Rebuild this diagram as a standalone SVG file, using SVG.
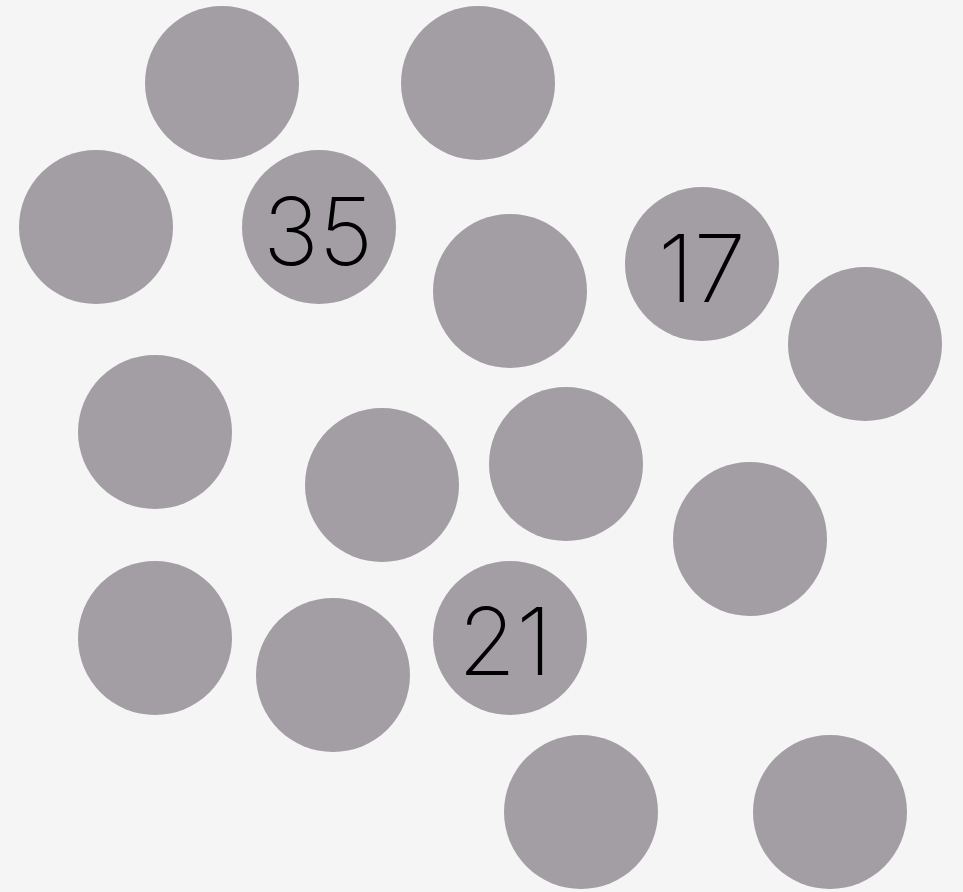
<svg xmlns="http://www.w3.org/2000/svg" width="963" height="892" viewBox="0 0 963 892">
<style>
.n{fill:#a39da4}
.t{font-family:Inter,"Liberation Sans",sans-serif;font-weight:200;font-size:94px;fill:#000;text-anchor:middle}
</style>
<rect width="963" height="892" fill="#f5f5f5"/>
<g id="connectors"/>
<g id="n1"><circle class="n" cx="222" cy="83" r="77"/></g>
<g id="n2"><circle class="n" cx="478" cy="83" r="77"/></g>
<g id="n3"><circle class="n" cx="96" cy="227" r="77"/></g>
<g id="n4"><circle class="n" cx="319" cy="227" r="77"/><text class="t" x="318" y="265">35</text></g>
<g id="n5"><circle class="n" cx="510" cy="291" r="77"/></g>
<g id="n6"><circle class="n" cx="702" cy="264" r="77"/><text class="t" x="702" y="302">17</text></g>
<g id="n7"><circle class="n" cx="865" cy="344" r="77"/></g>
<g id="n8"><circle class="n" cx="155" cy="432" r="77"/></g>
<g id="n9"><circle class="n" cx="382" cy="485" r="77"/></g>
<g id="n10"><circle class="n" cx="566" cy="464" r="77"/></g>
<g id="n11"><circle class="n" cx="750" cy="539" r="77"/></g>
<g id="n12"><circle class="n" cx="155" cy="638" r="77"/></g>
<g id="n13"><circle class="n" cx="333" cy="675" r="77"/></g>
<g id="n14"><circle class="n" cx="510" cy="638" r="77"/><text class="t" x="505" y="675">21</text></g>
<g id="n15"><circle class="n" cx="581" cy="812" r="77"/></g>
<g id="n16"><circle class="n" cx="830" cy="812" r="77"/></g>
</svg>
